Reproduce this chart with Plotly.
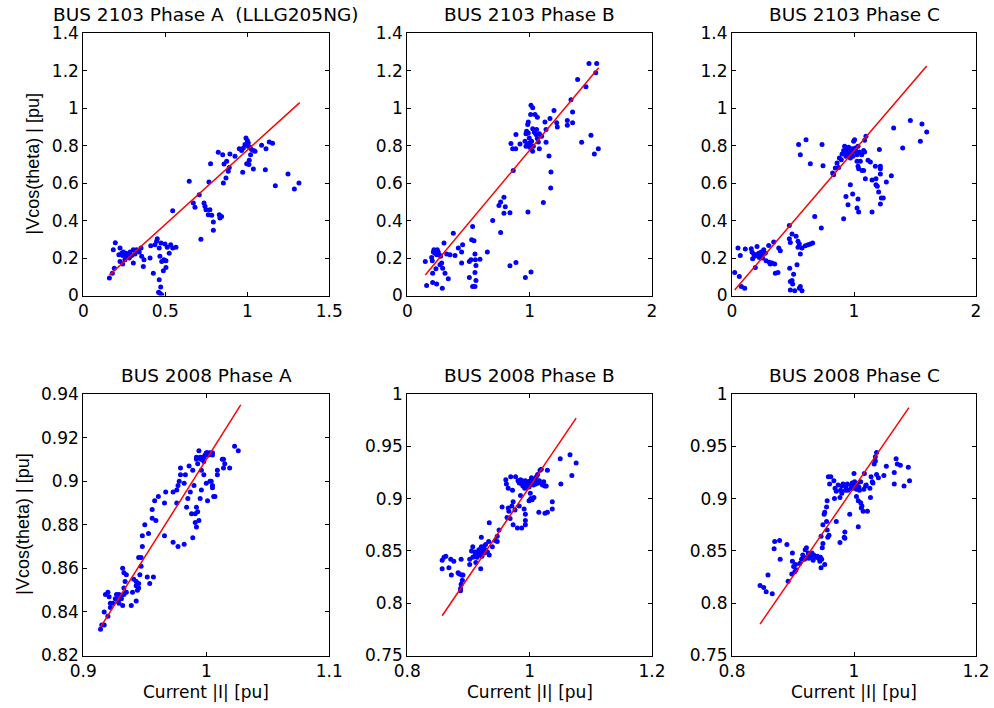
import plotly.graph_objects as go

# ---------------- data ----------------
titles = ["BUS 2103 Phase A  (LLLG205NG)", "BUS 2103 Phase B", "BUS 2103 Phase C",
          "BUS 2008 Phase A", "BUS 2008 Phase B", "BUS 2008 Phase C"]
y_title = "|Vcos(theta) | [pu]"
x_title = "Current |I| [pu]"

pts_2103_A = [
    (0.159, 0.093), (0.177, 0.119), (0.189, 0.146), (0.183, 0.244), (0.195, 0.282), (0.224, 0.253),
    (0.217, 0.217), (0.234, 0.226), (0.244, 0.232), (0.240, 0.214), (0.250, 0.221), (0.260, 0.226),
    (0.264, 0.209), (0.274, 0.217), (0.285, 0.232), (0.280, 0.200), (0.295, 0.214), (0.305, 0.244),
    (0.315, 0.221), (0.325, 0.244), (0.341, 0.232), (0.352, 0.253), (0.356, 0.209), (0.370, 0.191),
    (0.366, 0.155), (0.240, 0.168), (0.224, 0.182), (0.254, 0.191), (0.305, 0.173), (0.407, 0.200),
    (0.411, 0.266), (0.427, 0.119), (0.437, 0.271), (0.447, 0.289), (0.451, 0.303), (0.463, 0.253),
    (0.474, 0.280), (0.467, 0.209), (0.478, 0.182), (0.492, 0.191), (0.504, 0.185), (0.504, 0.150),
    (0.488, 0.132), (0.498, 0.275), (0.512, 0.257), (0.524, 0.226), (0.533, 0.271), (0.545, 0.253),
    (0.565, 0.258), (0.463, 0.084), (0.472, 0.046), (0.467, 0.012), (0.478, 0.004), (0.459, 0.018),
    (0.545, 0.453), (0.646, 0.610), (0.671, 0.494), (0.681, 0.471), (0.707, 0.538), (0.717, 0.301),
    (0.736, 0.494), (0.742, 0.476), (0.748, 0.458), (0.762, 0.431), (0.772, 0.458), (0.783, 0.428),
    (0.793, 0.392), (0.793, 0.349), (0.829, 0.431), (0.843, 0.422), (0.833, 0.414), (0.766, 0.606),
    (0.776, 0.704), (0.823, 0.765), (0.850, 0.752), (0.858, 0.702), (0.874, 0.717), (0.884, 0.663),
    (0.890, 0.684), (0.870, 0.627), (0.854, 0.601), (0.894, 0.756), (0.925, 0.743), (0.951, 0.784),
    (0.965, 0.774), (0.976, 0.788), (0.986, 0.806), (0.992, 0.841), (1.000, 0.827), (1.006, 0.815),
    (1.006, 0.797), (1.016, 0.791), (1.026, 0.779), (1.037, 0.774), (1.047, 0.770), (1.020, 0.752),
    (1.012, 0.722), (0.996, 0.704), (1.010, 0.699), (1.037, 0.676), (0.972, 0.658), (1.087, 0.802),
    (1.114, 0.784), (1.134, 0.820), (1.154, 0.813), (1.110, 0.672), (1.171, 0.586), (1.248, 0.649),
    (1.287, 0.569), (1.315, 0.601),
]
fit_2103_A = [(0.16, 0.11), (1.32, 1.03)]

pts_2103_B = [
    (0.147, 0.182), (0.158, 0.053), (0.207, 0.070), (0.240, 0.061), (0.286, 0.039), (0.199, 0.203),
    (0.204, 0.185), (0.213, 0.232), (0.218, 0.244), (0.226, 0.226), (0.234, 0.239), (0.240, 0.217),
    (0.245, 0.244), (0.253, 0.232), (0.262, 0.217), (0.272, 0.209), (0.281, 0.173), (0.267, 0.164),
    (0.289, 0.146), (0.300, 0.280), (0.308, 0.119), (0.322, 0.221), (0.335, 0.089), (0.207, 0.119),
    (0.234, 0.143), (0.349, 0.217), (0.376, 0.333), (0.390, 0.214), (0.417, 0.253), (0.444, 0.232),
    (0.452, 0.271), (0.444, 0.173), (0.507, 0.182), (0.520, 0.191), (0.534, 0.369), (0.526, 0.298),
    (0.545, 0.292), (0.553, 0.221), (0.556, 0.191), (0.561, 0.160), (0.553, 0.123), (0.507, 0.096),
    (0.561, 0.080), (0.534, 0.048), (0.553, 0.048), (0.594, 0.194), (0.654, 0.232), (0.698, 0.401),
    (0.763, 0.337), (0.749, 0.481), (0.763, 0.499), (0.790, 0.524), (0.801, 0.474), (0.790, 0.439),
    (0.839, 0.442), (0.839, 0.159), (0.888, 0.176), (0.965, 0.096), (1.011, 0.125), (0.986, 0.446),
    (1.112, 0.497), (1.172, 0.574), (1.174, 0.660), (1.158, 0.745), (0.866, 0.667),
    (0.847, 0.811), (0.861, 0.784), (0.886, 0.784), (0.888, 0.859), (0.921, 0.809), (0.962, 0.824),
    (0.970, 0.863), (0.975, 0.877), (0.989, 0.868), (0.989, 0.927), (0.984, 0.913), (0.997, 0.841),
    (0.970, 0.797), (0.981, 0.809), (0.992, 0.797), (1.003, 0.815), (1.008, 0.788), (1.016, 0.824),
    (1.024, 0.770), (1.030, 0.797), (1.011, 1.016), (1.025, 1.002), (1.008, 0.966), (1.044, 0.966),
    (1.063, 0.952), (1.025, 0.891), (1.038, 0.872), (1.057, 0.886), (1.052, 0.859), (1.063, 0.838),
    (1.079, 0.863), (1.079, 0.784), (1.071, 0.820), (1.098, 0.850), (1.125, 0.927), (1.134, 0.886),
    (1.134, 0.818), (1.166, 0.945), (1.199, 0.988), (1.221, 0.922), (1.226, 0.900), (1.308, 0.934),
    (1.308, 0.909), (1.351, 0.980), (1.351, 0.922), (1.338, 1.045), (1.392, 1.153), (1.460, 1.114),
    (1.485, 1.239), (1.548, 1.239), (1.540, 1.189), (1.425, 0.818), (1.501, 0.856), (1.529, 0.756),
    (1.561, 0.783),
]
fit_2103_B = [(0.147, 0.11), (1.564, 1.216)]

pts_2103_C = [
    (0.022, 0.123), (0.060, 0.102), (0.077, 0.048), (0.104, 0.039), (0.049, 0.253), (0.068, 0.214),
    (0.109, 0.248), (0.158, 0.250), (0.164, 0.232), (0.178, 0.221), (0.169, 0.196), (0.186, 0.209),
    (0.191, 0.150), (0.205, 0.262), (0.205, 0.217), (0.219, 0.226), (0.224, 0.203), (0.232, 0.214),
    (0.240, 0.232), (0.246, 0.217), (0.251, 0.200), (0.260, 0.244), (0.273, 0.226), (0.279, 0.185),
    (0.301, 0.267), (0.306, 0.178), (0.314, 0.168), (0.328, 0.173), (0.342, 0.285), (0.350, 0.168),
    (0.355, 0.119), (0.377, 0.123), (0.383, 0.253), (0.396, 0.239), (0.470, 0.374), (0.473, 0.146),
    (0.478, 0.075), (0.492, 0.080), (0.478, 0.029), (0.514, 0.025), (0.497, 0.061), (0.505, 0.114),
    (0.533, 0.164), (0.470, 0.303), (0.478, 0.283), (0.492, 0.328), (0.525, 0.316), (0.541, 0.289),
    (0.552, 0.275), (0.541, 0.258), (0.560, 0.221), (0.574, 0.253), (0.560, 0.048), (0.574, 0.025),
    (0.552, 0.039), (0.601, 0.266), (0.623, 0.271), (0.642, 0.275), (0.661, 0.280), (0.678, 0.422),
    (0.732, 0.360), (0.915, 0.410),
    (0.546, 0.806), (0.560, 0.752), (0.607, 0.831), (0.642, 0.704), (0.738, 0.806), (0.746, 0.693),
    (0.825, 0.654), (0.833, 0.645), (0.847, 0.681), (0.861, 0.708), (0.874, 0.684), (0.880, 0.734),
    (0.896, 0.725), (0.902, 0.756), (0.915, 0.774), (0.923, 0.797), (0.929, 0.766), (0.934, 0.743),
    (0.943, 0.779), (0.951, 0.756), (0.956, 0.791), (0.962, 0.770), (0.970, 0.734), (0.975, 0.752),
    (0.984, 0.784), (0.989, 0.766), (0.992, 0.743), (0.997, 0.824), (1.005, 0.831), (1.011, 0.788),
    (1.016, 0.770), (1.025, 0.752), (1.033, 0.797), (1.044, 0.766), (1.033, 0.690), (1.025, 0.717),
    (1.038, 0.677), (1.052, 0.717), (1.063, 0.752), (1.079, 0.774), (1.087, 0.766), (1.066, 0.668),
    (1.079, 0.667), (1.098, 0.850), (1.087, 0.829), (1.093, 0.624), (1.115, 0.722), (1.134, 0.713),
    (1.148, 0.617), (1.175, 0.690), (1.180, 0.624), (1.180, 0.592), (1.191, 0.583), (1.202, 0.553),
    (1.208, 0.779), (1.216, 0.690), (1.216, 0.677), (1.216, 0.649), (1.224, 0.520), (1.240, 0.520),
    (1.216, 0.488), (1.265, 0.606), (1.306, 0.640), (0.970, 0.592), (0.934, 0.529), (0.951, 0.485),
    (0.989, 0.542), (1.033, 0.515), (1.025, 0.467), (1.038, 0.446), (1.148, 0.446), (1.325, 0.895),
    (1.399, 0.788), (1.462, 0.934), (1.544, 0.824), (1.557, 0.916), (1.596, 0.873),
]
fit_2103_C = [(0.022, 0.029), (1.596, 1.225)]

pts_2008_A = [
    (0.914, 0.832), (0.915, 0.834), (0.917, 0.834), (0.917, 0.840), (0.920, 0.838), (0.918, 0.848),
    (0.920, 0.849), (0.921, 0.847), (0.922, 0.844), (0.922, 0.842), (0.924, 0.844), (0.926, 0.846),
    (0.927, 0.848), (0.928, 0.845), (0.929, 0.846), (0.929, 0.848), (0.930, 0.847), (0.929, 0.844),
    (0.931, 0.846), (0.932, 0.843), (0.933, 0.848), (0.933, 0.851), (0.934, 0.854), (0.932, 0.860),
    (0.933, 0.858), (0.935, 0.857), (0.935, 0.849), (0.939, 0.843), (0.940, 0.849), (0.941, 0.855),
    (0.943, 0.854), (0.943, 0.852), (0.943, 0.845), (0.944, 0.850), (0.945, 0.851), (0.945, 0.853),
    (0.946, 0.857), (0.945, 0.865), (0.947, 0.865), (0.947, 0.861), (0.948, 0.870), (0.948, 0.875),
    (0.950, 0.880), (0.952, 0.856), (0.954, 0.853), (0.957, 0.856), (0.953, 0.876), (0.956, 0.887),
    (0.956, 0.883), (0.959, 0.882), (0.958, 0.891), (0.961, 0.893), (0.966, 0.890), (0.967, 0.895),
    (0.966, 0.875), (0.973, 0.895), (0.973, 0.872), (0.976, 0.890), (0.976, 0.896), (0.977, 0.870),
    (0.977, 0.898), (0.978, 0.900), (0.979, 0.903), (0.979, 0.906), (0.983, 0.903), (0.982, 0.899),
    (0.982, 0.871), (0.984, 0.888), (0.985, 0.892), (0.986, 0.907), (0.987, 0.895), (0.988, 0.885),
    (0.989, 0.874), (0.989, 0.905), (0.990, 0.898), (0.991, 0.885), (0.991, 0.881), (0.992, 0.879),
    (0.992, 0.888), (0.993, 0.886), (0.993, 0.908), (0.994, 0.882), (0.995, 0.892), (0.996, 0.896),
    (0.996, 0.905), (0.992, 0.911), (0.992, 0.910), (0.994, 0.914), (0.995, 0.911), (0.996, 0.910),
    (0.996, 0.910), (0.997, 0.911), (0.998, 0.911), (0.999, 0.912), (1.000, 0.913), (1.001, 0.913),
    (1.002, 0.912), (1.003, 0.913), (1.005, 0.913), (1.005, 0.912), (0.998, 0.909), (0.998, 0.903),
    (1.000, 0.899), (1.001, 0.891), (1.003, 0.900), (1.004, 0.900), (1.005, 0.898), (1.005, 0.897),
    (1.006, 0.893), (1.007, 0.893), (1.009, 0.905), (1.009, 0.903), (1.014, 0.910), (1.015, 0.908),
    (1.013, 0.910), (1.014, 0.906), (1.019, 0.906), (1.023, 0.916), (1.026, 0.914),
]
fit_2008_A = [(0.914, 0.833), (1.028, 0.935)]

pts_2008_B = [
    (0.857, 0.841), (0.857, 0.833), (0.860, 0.844), (0.863, 0.845), (0.868, 0.834), (0.871, 0.842),
    (0.872, 0.827), (0.876, 0.840), (0.883, 0.829), (0.885, 0.828), (0.888, 0.842), (0.889, 0.827),
    (0.891, 0.827), (0.890, 0.822), (0.888, 0.818), (0.887, 0.814), (0.887, 0.812), (0.902, 0.842),
    (0.902, 0.837), (0.905, 0.850), (0.907, 0.844), (0.907, 0.854), (0.911, 0.849), (0.911, 0.847),
    (0.912, 0.839), (0.914, 0.844), (0.915, 0.848), (0.917, 0.851), (0.918, 0.846), (0.919, 0.851),
    (0.920, 0.848), (0.920, 0.833), (0.921, 0.854), (0.921, 0.863), (0.922, 0.845), (0.923, 0.851),
    (0.925, 0.854), (0.926, 0.848), (0.927, 0.851), (0.928, 0.856), (0.931, 0.849), (0.934, 0.846),
    (0.933, 0.859), (0.939, 0.854), (0.944, 0.860), (0.947, 0.864), (0.947, 0.859), (0.950, 0.870),
    (0.934, 0.877),
    (0.955, 0.892), (0.965, 0.891), (0.966, 0.888), (0.968, 0.881), (0.963, 0.882), (0.971, 0.893),
    (0.973, 0.897), (0.973, 0.875), (0.976, 0.889), (0.980, 0.872), (0.983, 0.893), (0.987, 0.872),
    (0.991, 0.890), (0.993, 0.885), (0.993, 0.879), (0.993, 0.875), (0.985, 0.903), (0.999, 0.898),
    (1.002, 0.900), (1.004, 0.899), (1.007, 0.901), (1.001, 0.905), (1.015, 0.887), (1.025, 0.886),
    (1.029, 0.887), (1.037, 0.890), (1.037, 0.897),
    (0.961, 0.918), (0.962, 0.914), (0.965, 0.910), (0.969, 0.921), (0.972, 0.908), (0.977, 0.921),
    (0.981, 0.917), (0.983, 0.915), (0.985, 0.918), (0.987, 0.914), (0.988, 0.917), (0.989, 0.912),
    (0.991, 0.915), (0.992, 0.910), (0.993, 0.917), (0.995, 0.914), (0.996, 0.913), (0.998, 0.916),
    (0.999, 0.911), (1.000, 0.915), (1.001, 0.917), (1.003, 0.920), (1.004, 0.914), (1.005, 0.917),
    (1.006, 0.913), (1.008, 0.916), (1.009, 0.919), (1.010, 0.914), (1.011, 0.921), (1.013, 0.923),
    (1.015, 0.915), (1.016, 0.917), (1.017, 0.927), (1.019, 0.928), (1.021, 0.913), (1.023, 0.916),
    (1.025, 0.912), (1.027, 0.912), (1.029, 0.927), (1.050, 0.938), (1.051, 0.914), (1.066, 0.942),
    (1.069, 0.922), (1.076, 0.934),
]
fit_2008_B = [(0.857, 0.788), (1.076, 0.977)]

pts_2008_C = [
    (0.846, 0.817), (0.852, 0.815), (0.856, 0.811), (0.866, 0.809), (0.859, 0.827), (0.870, 0.859),
    (0.869, 0.852), (0.878, 0.860), (0.879, 0.842), (0.890, 0.856), (0.892, 0.821), (0.898, 0.828),
    (0.899, 0.848), (0.899, 0.840), (0.901, 0.835), (0.903, 0.830), (0.904, 0.837), (0.905, 0.832),
    (0.911, 0.838), (0.914, 0.842), (0.916, 0.846), (0.919, 0.842), (0.920, 0.851), (0.922, 0.853),
    (0.923, 0.844), (0.925, 0.848), (0.926, 0.843), (0.927, 0.847), (0.930, 0.845), (0.931, 0.848),
    (0.933, 0.841), (0.934, 0.846), (0.938, 0.844), (0.940, 0.845), (0.942, 0.843), (0.944, 0.840),
    (0.945, 0.844), (0.946, 0.834), (0.947, 0.842), (0.948, 0.853), (0.952, 0.837), (0.949, 0.857),
    (0.946, 0.864), (0.949, 0.875), (0.951, 0.885), (0.952, 0.887), (0.955, 0.878), (0.956, 0.870),
    (0.957, 0.863), (0.959, 0.865), (0.955, 0.892), (0.956, 0.898), (0.958, 0.921), (0.962, 0.921),
    (0.960, 0.914), (0.967, 0.917), (0.968, 0.900), (0.969, 0.910), (0.971, 0.907), (0.971, 0.878),
    (0.974, 0.913), (0.977, 0.901), (0.977, 0.858), (0.978, 0.908), (0.980, 0.905), (0.980, 0.912),
    (0.982, 0.914), (0.984, 0.863), (0.985, 0.868), (0.985, 0.862), (0.986, 0.908), (0.987, 0.912),
    (0.989, 0.914), (0.990, 0.908), (0.993, 0.885), (0.995, 0.910), (0.996, 0.913), (0.997, 0.915),
    (0.998, 0.910), (1.000, 0.924), (1.001, 0.916), (1.002, 0.912), (1.004, 0.909), (1.004, 0.902),
    (1.005, 0.914), (1.007, 0.898), (1.007, 0.873), (1.008, 0.911), (1.009, 0.908), (1.011, 0.916),
    (1.011, 0.896), (1.012, 0.891), (1.013, 0.893), (1.015, 0.888), (1.016, 0.909), (1.017, 0.924),
    (1.019, 0.912), (1.020, 0.913), (1.022, 0.888), (1.026, 0.910), (1.027, 0.901), (1.028, 0.921),
    (1.030, 0.916), (1.031, 0.915), (1.033, 0.933), (1.035, 0.940), (1.037, 0.944), (1.035, 0.936),
    (1.037, 0.923), (1.040, 0.920), (1.049, 0.922), (1.053, 0.931), (1.066, 0.925), (1.066, 0.914),
    (1.069, 0.938), (1.071, 0.933), (1.076, 0.932), (1.082, 0.912), (1.089, 0.930), (1.091, 0.917),
]
fit_2008_C = [(0.846, 0.780), (1.090, 0.987)]

# axis ranges and tick labels
x_ranges = [[0, 1.5], [0, 2], [0, 2], [0.9, 1.1], [0.8, 1.2], [0.8, 1.2]]
y_ranges = [[0, 1.4], [0, 1.4], [0, 1.4], [0.82, 0.94], [0.75, 1.0], [0.75, 1.0]]
x_tickvals = [[0, 0.5, 1, 1.5], [0, 1, 2], [0, 1, 2], [0.9, 1.0, 1.1], [0.8, 1.0, 1.2], [0.8, 1.0, 1.2]]
x_ticktext = [["0", "0.5", "1", "1.5"], ["0", "1", "2"], ["0", "1", "2"],
              ["0.9", "1", "1.1"], ["0.8", "1", "1.2"], ["0.8", "1", "1.2"]]
top_yvals = [0, 0.2, 0.4, 0.6, 0.8, 1.0, 1.2, 1.4]
top_ytext = ["0", "0.2", "0.4", "0.6", "0.8", "1", "1.2", "1.4"]
y_tickvals = [top_yvals, top_yvals, top_yvals,
              [0.82, 0.84, 0.86, 0.88, 0.90, 0.92, 0.94],
              [0.75, 0.80, 0.85, 0.90, 0.95, 1.0],
              [0.75, 0.80, 0.85, 0.90, 0.95, 1.0]]
y_ticktext = [top_ytext, top_ytext, top_ytext,
              ["0.82", "0.84", "0.86", "0.88", "0.9", "0.92", "0.94"],
              ["0.75", "0.8", "0.85", "0.9", "0.95", "1"],
              ["0.75", "0.8", "0.85", "0.9", "0.95", "1"]]

all_pts = [pts_2103_A, pts_2103_B, pts_2103_C, pts_2008_A, pts_2008_B, pts_2008_C]
all_fits = [fit_2103_A, fit_2103_B, fit_2103_C, fit_2008_A, fit_2008_B, fit_2008_C]

# ---------------- layout geometry (pixels) ----------------
W, H = 994, 708
FONT = "DejaVu Sans"
FS = 17
TITLE_FS = 18.5
YLAB_FONT = "Liberation Sans"
YLAB_FS = 18
cols_px = [(83.3, 329.3), (407.3, 652.0), (732.0, 976.0)]
rows_px = [(33.3, 295.5), (394.0, 655.5)]

fig = go.Figure()
layout = dict(
    template="none",
    width=W, height=H, margin=dict(l=0, r=0, t=0, b=0, pad=0), autosize=False,
    paper_bgcolor="white", plot_bgcolor="white", showlegend=False,
    font=dict(family=FONT, size=FS, color="black"),
)
annotations = []

for i in range(6):
    r, c = divmod(i, 3)
    n = i + 1
    xa = "xaxis" if n == 1 else f"xaxis{n}"
    ya = "yaxis" if n == 1 else f"yaxis{n}"
    xref = "x" if n == 1 else f"x{n}"
    yref = "y" if n == 1 else f"y{n}"
    l, rr = cols_px[c]
    t, b = rows_px[r]
    common = dict(showline=True, linecolor="black", linewidth=1, mirror="ticks",
                  ticks="inside", ticklen=4, tickcolor="black", tickwidth=1,
                  showgrid=False, zeroline=False, automargin=False,
                  tickfont=dict(family=FONT, size=FS, color="black"))
    layout[xa] = dict(domain=[l / W, rr / W], range=x_ranges[i], anchor=yref,
                      tickmode="array", tickvals=x_tickvals[i], ticktext=x_ticktext[i], **common)
    layout[ya] = dict(domain=[1 - b / H, 1 - t / H], range=y_ranges[i], anchor=xref,
                      tickmode="array", tickvals=y_tickvals[i], ticktext=y_ticktext[i], **common)

    px_ = [p[0] for p in all_pts[i]]
    py_ = [p[1] for p in all_pts[i]]
    fig.add_trace(go.Scatter(x=px_, y=py_, mode="markers", xaxis=xref, yaxis=yref,
                             marker=dict(color="#0000ff", size=5, line=dict(width=0))))
    fig.add_trace(go.Scatter(x=[p[0] for p in all_fits[i]], y=[p[1] for p in all_fits[i]],
                             mode="lines", xaxis=xref, yaxis=yref,
                             line=dict(color="#ff0000", width=1.5)))

    annotations.append(dict(text=titles[i], xref="paper", yref="paper",
                            x=(l + rr) / 2 / W, y=1 - (t - 18.5) / H,
                            xanchor="center", yanchor="middle", showarrow=False,
                            font=dict(family=FONT, size=TITLE_FS, color="black")))
    if c == 0:
        ylab_x = 33 if r == 0 else 23
        annotations.append(dict(text=y_title, xref="paper", yref="paper",
                                x=ylab_x / W, y=1 - (t + b) / 2 / H, textangle=-90,
                                xanchor="center", yanchor="middle", showarrow=False,
                                font=dict(family=YLAB_FONT, size=YLAB_FS, color="black")))
    if r == 1:
        annotations.append(dict(text=x_title, xref="paper", yref="paper",
                                x=(l + rr) / 2 / W, y=1 - 691.5 / H,
                                xanchor="center", yanchor="middle", showarrow=False,
                                font=dict(family=FONT, size=FS, color="black")))

layout["annotations"] = annotations
fig.update_layout(**layout)
fig.write_html("out.html")
